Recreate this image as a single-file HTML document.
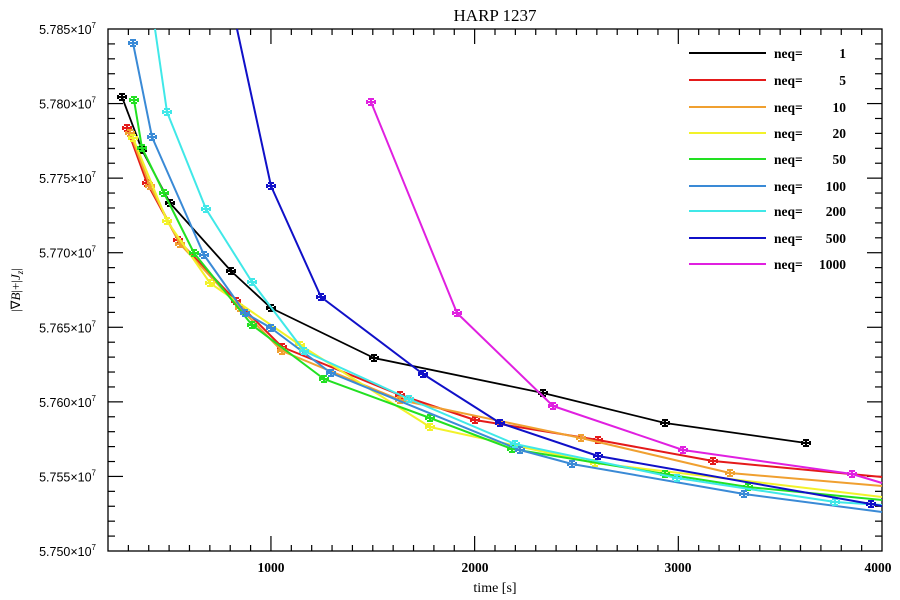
<!DOCTYPE html>
<html><head><meta charset="utf-8"><style>
html,body{margin:0;padding:0;background:#fff;width:900px;height:600px;overflow:hidden}
svg{display:block}
</style></head><body>
<svg id="s" width="900" height="600" xmlns="http://www.w3.org/2000/svg" font-family="Liberation Serif, serif">
<text x="495" y="21" font-size="17" text-anchor="middle">HARP 1237</text>
<rect x="108" y="29" width="774" height="522" fill="none" stroke="#000" stroke-width="1.3"/>
<g id="ticks" stroke="#000" stroke-width="1.2"></g>
<g id="ylab" font-family="Liberation Sans, sans-serif" font-size="12.5" text-anchor="end"></g>
<g font-size="13.5" font-weight="bold" text-anchor="middle">
<text x="271" y="572">1000</text><text x="475" y="572">2000</text><text x="678" y="572">3000</text><text x="878" y="572">4000</text>
</g>
<text x="495" y="592" font-size="14" text-anchor="middle">time [s]</text>
<text transform="translate(20,290) rotate(-90)" font-size="13" text-anchor="middle">|∇<tspan font-style="italic">B</tspan>|+|<tspan font-style="italic">J</tspan><tspan font-size="9" dy="3" font-style="italic">z</tspan><tspan dy="-3">|</tspan></text>
<g id="series" fill="none" stroke-width="2" stroke-linejoin="round"></g>
<g id="legend" font-size="13.5" font-weight="bold"></g>
</svg>
<script>
var NS="http://www.w3.org/2000/svg";
function el(p,t,a,txt){var e=document.createElementNS(NS,t);for(var k in a)e.setAttribute(k,a[k]);if(txt!==undefined)e.textContent=txt;p.appendChild(e);return e;}
var T=document.getElementById('ticks');
function xp(t){return 108+(t-200)*774/3800;}
for(var t=300;t<4000;t+=100){var x=xp(t);var L=(t%1000==0)?15:6;
el(T,'line',{x1:x,y1:551,x2:x,y2:551-L});el(T,'line',{x1:x,y1:29,x2:x,y2:29+L});}
function yp(v){return 551-(v-5.750)*522/0.035;}
var YL=document.getElementById('ylab');
for(var i=1;i<35;i++){var v=5.750+i*0.001;var y=yp(v);var L=(i%5==0)?15:7;
el(T,'line',{x1:108,y1:y,x2:108+L,y2:y});el(T,'line',{x1:882,y1:y,x2:882-L,y2:y});}
for(var i=0;i<=7;i++){var v=5.750+i*0.005;var y=yp(v);
var tx=el(YL,'text',{x:96,y:y+5});tx.textContent=v.toFixed(3)+"×10";el(tx,'tspan',{'font-size':'8',dy:'-6'},"7");}
var S=[
["#000",[[122,97],[142,150],[170,203],[231,271],[271,308],[374,358],[543,393],[665,423],[806,443]]],
["#e41a1a",[[127,128],[147,183],[178,240],[236,301],[282,347],[400,395],[475,420],[598,440],[713,461],[882,477]]],
["#f0a030",[[130,133],[150,186],[180,244],[240,308],[282,351],[400,400],[581,438],[730,473],[882,486]]],
["#f2f22a",[[133,138],[167,221],[210,283],[300,345],[430,427],[595,463],[882,497]]],
["#22e022",[[134,100],[142,148],[164,193],[194,253],[252,325],[324,379],[430,418],[512,449],[665,474],[748,487],[882,500]]],
["#3a8ad6",[[133,43],[152,137],[204,255],[245,313],[271,328],[331,373],[520,450],[572,464],[744,494],[882,512]]],
["#40e8e8",[[155,29],[167,112],[206,209],[252,282],[304,351],[409,399],[515,444],[677,478],[835,502],[882,505]]],
["#1010c8",[[237,29],[271,186],[321,297],[423,374],[500,423],[598,456],[871,504],[882,506]]],
["#e020e0",[[371,102],[457,313],[553,406],[683,450],[852,474],[882,483]]]
];
var G=document.getElementById('series');
S.forEach(function(s){var c=s[0],p=s[1];
el(G,'polyline',{points:p.map(function(q){return q.join(',')}).join(' '),stroke:c,'stroke-width':(c=="#000"?1.8:2)});
p.forEach(function(q,i){if(q[0]>=881||q[1]<=30)return;var x=q[0],y=q[1];
el(G,'path',{d:'M'+(x-3)+' '+(y-3)+'h6M'+(x-3)+' '+(y+3)+'h6M'+x+' '+(y-3)+'v6M'+(x-4)+' '+y+'h8M'+(x-4)+' '+(y-2)+'v4M'+(x+4)+' '+(y-2)+'v4',stroke:c,'stroke-width':2});});});
var LG=document.getElementById('legend');
var names=["1","5","10","20","50","100","200","500","1000"];
var ly=[53,80,107,133,159,186,211,238,264];
S.forEach(function(s,i){el(LG,'line',{x1:689,y1:ly[i],x2:766,y2:ly[i],stroke:s[0],'stroke-width':2});
el(LG,'text',{x:774,y:ly[i]+5},"neq=");
el(LG,'text',{x:846,y:ly[i]+5,'text-anchor':'end'},names[i]);});
</script>
</body></html>
